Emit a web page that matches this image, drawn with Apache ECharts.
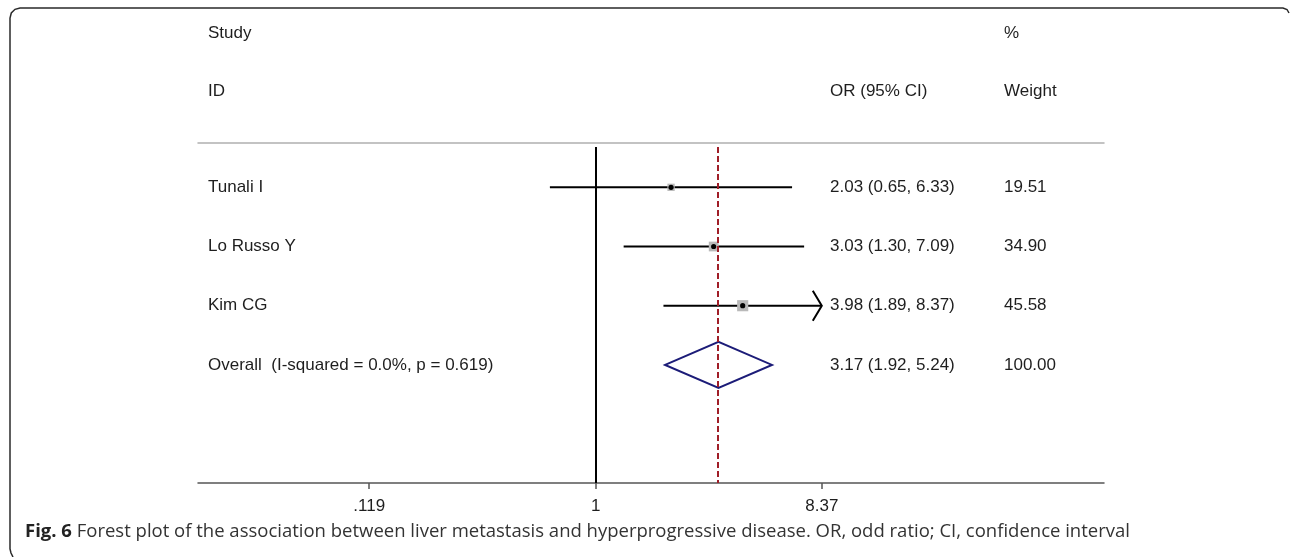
<!DOCTYPE html>
<html lang="en">
<head>
  <meta charset="UTF-8">
  <title>Forest plot</title>
</head>
<body style="margin:0;background:#fff">
  <div id="main" style="width:1290px;height:557px;"></div>

  <script src="https://cdn.jsdelivr.net/npm/echarts@6/dist/echarts.min.js"></script>
  <script type="text/javascript">
    // study data (odds ratios, 95% CI, weights)
    const studies = ['Tunali I', 'Lo Russo Y', 'Kim CG'];
    const orValues = [2.03, 3.03, 3.98];
    const ciLower = [0.65, 1.30, 1.89];
    const ciUpper = [6.33, 7.09, 8.37];
    const weights = [19.51, 34.90, 45.58];

    // pooled estimate
    const overallLabel = 'Overall  (I-squared = 0.0%, p = 0.619)';
    const overallOR = 3.17;
    const overallCI = [1.92, 5.24];
    const overallWeight = 100.00;

    // x axis ticks
    const tickValues = [0.119, 1, 8.37];
    const tickLabels = ['.119', '1', '8.37'];

    const rows = [1, 2, 3, 4];
    const FONT = 'Liberation Sans, Arial, sans-serif';
    const TEXT = '#1e1e1e';

    const ln = Math.log;
    const tickLn = tickValues.map(v => ln(v));
    const maxTickLn = tickLn[tickLn.length - 1];

    const rowNames = studies.concat([overallLabel]);
    const ciTexts = orValues.map((v, i) => v.toFixed(2) + ' (' + ciLower[i].toFixed(2) + ', ' + ciUpper[i].toFixed(2) + ')')
      .concat([overallOR.toFixed(2) + ' (' + overallCI[0].toFixed(2) + ', ' + overallCI[1].toFixed(2) + ')']);
    const weightTexts = weights.map(w => w.toFixed(2)).concat([overallWeight.toFixed(2)]);

    const studyData = studies.map((s, i) => [ln(ciLower[i]), ln(ciUpper[i]), ln(orValues[i]), rows[i], weights[i]]);
    const overallData = [[ln(overallCI[0]), ln(overallCI[1]), ln(overallOR), rows[3]]];

    function rowAxis(offset, margin, texts) {
      return {
        type: 'value',
        inverse: true,
        min: 0.319,
        max: 5.995,
        position: 'right',
        offset: offset,
        axisLine: { show: false },
        axisTick: { show: false },
        splitLine: { show: false },
        axisLabel: {
          customValues: rows,
          margin: margin,
          align: 'left',
          fontFamily: FONT,
          fontSize: 17,
          color: TEXT,
          formatter: v => texts[Math.round(v) - 1] || ''
        }
      };
    }

    function renderStudy(params, api) {
      const row = api.value(3);
      const lo = api.coord([api.value(0), row]);
      const hi = api.coord([api.value(1), row]);
      const mid = api.coord([api.value(2), row]);
      const side = 1.65 * Math.sqrt(api.value(4));
      const children = [{
        type: 'line',
        shape: { x1: lo[0], y1: lo[1], x2: hi[0], y2: hi[1] },
        style: { stroke: '#000', lineWidth: 2 }
      }];
      // CI reaching the edge of the shown range gets an arrow
      if (api.value(1) >= maxTickLn - 1e-6) {
        children.push({
          type: 'polyline',
          shape: { points: [[hi[0] - 9, hi[1] - 15], [hi[0], hi[1]], [hi[0] - 9, hi[1] + 15]] },
          style: { stroke: '#000', lineWidth: 2, fill: null }
        });
      }
      children.push({
        type: 'rect',
        shape: { x: mid[0] - side / 2, y: mid[1] - side / 2, width: side, height: side },
        style: { fill: '#b9b9b9' }
      }, {
        type: 'circle',
        shape: { cx: mid[0], cy: mid[1], r: 2.6 },
        style: { fill: '#000' }
      });
      return { type: 'group', children: children };
    }

    function renderDiamond(params, api) {
      const row = api.value(3);
      const lo = api.coord([api.value(0), row]);
      const hi = api.coord([api.value(1), row]);
      const mid = api.coord([api.value(2), row]);
      const h = 23;
      return {
        type: 'polygon',
        shape: { points: [[lo[0], lo[1]], [mid[0], mid[1] - h], [hi[0], hi[1]], [mid[0], mid[1] + h]] },
        style: { stroke: '#1c1c78', lineWidth: 2, fill: null }
      };
    }

    const headerStyle = { fontFamily: FONT, fontSize: 17, fill: TEXT };

    var myChart = echarts.init(document.getElementById('main'));
    myChart.setOption({
      animation: false,
      backgroundColor: '#fff',
      grid: { left: 198, right: 186, top: 147, bottom: 74 },
      xAxis: [{
        type: 'value',
        min: -3.738,
        max: 4.777,
        position: 'bottom',
        axisLine: { show: true, onZero: false, lineStyle: { color: '#555', width: 1.5 } },
        axisTick: { show: true, customValues: tickLn, length: 6, lineStyle: { color: '#555', width: 1.5 } },
        axisLabel: {
          customValues: tickLn,
          margin: 15,
          fontFamily: FONT,
          fontSize: 17,
          color: TEXT,
          formatter: v => {
            let best = 0;
            tickLn.forEach((t, i) => { if (Math.abs(t - v) < Math.abs(tickLn[best] - v)) best = i; });
            return tickLabels[best];
          }
        },
        splitLine: { show: false }
      }, {
        type: 'value',
        min: -3.738,
        max: 4.777,
        position: 'top',
        offset: 4,
        axisLine: { show: true, onZero: false, lineStyle: { color: '#b0b0b0', width: 1.5 } },
        axisTick: { show: false },
        axisLabel: { show: false },
        splitLine: { show: false }
      }],
      yAxis: [
        rowAxis(-906, 10, rowNames),
        rowAxis(-274, 0, ciTexts),
        rowAxis(-100, 0, weightTexts)
      ],
      series: [{
        type: 'custom',
        renderItem: renderStudy,
        data: studyData,
        silent: true
      }, {
        type: 'custom',
        renderItem: renderDiamond,
        data: overallData,
        silent: true,
        z: 3,
        markLine: {
          silent: true,
          symbol: 'none',
          label: { show: false },
          data: [
            { xAxis: 0, lineStyle: { color: '#000', width: 2, type: 'solid' } },
            { xAxis: ln(overallOR), lineStyle: { color: '#a01e28', width: 2, type: [6, 3] } }
          ]
        }
      }],
      graphic: [
        { type: 'text', x: 208, y: 25, style: Object.assign({ text: 'Study' }, headerStyle) },
        { type: 'text', x: 208, y: 83, style: Object.assign({ text: 'ID' }, headerStyle) },
        { type: 'text', x: 830, y: 83, style: Object.assign({ text: 'OR (95% CI)' }, headerStyle) },
        { type: 'text', x: 1004, y: 25, style: Object.assign({ text: '%' }, headerStyle) },
        { type: 'text', x: 1004, y: 83, style: Object.assign({ text: 'Weight' }, headerStyle) },
        {
          type: 'polyline',
          shape: {
            points: [[1289, 13], [1287, 9.5], [1283, 8], [20, 8], [15, 9.3], [11.3, 13], [10, 18],
              [10, 549], [11, 553], [13, 557]]
          },
          style: { stroke: '#2a2a2a', lineWidth: 1.5, fill: null }
        },
        {
          type: 'text',
          x: 25,
          y: 522,
          style: {
            text: '{b|Fig. 6} Forest plot of the association between liver metastasis and hyperprogressive disease. OR, odd ratio; CI, confidence interval',
            fontFamily: 'Open Sans, sans-serif',
            fontSize: 18.5,
            fill: '#333',
            rich: {
              b: { fontFamily: 'Open Sans, sans-serif', fontSize: 18.5, fontWeight: 'bold', fill: '#222' }
            }
          }
        }
      ]
    });
  </script>
</body>
</html>
